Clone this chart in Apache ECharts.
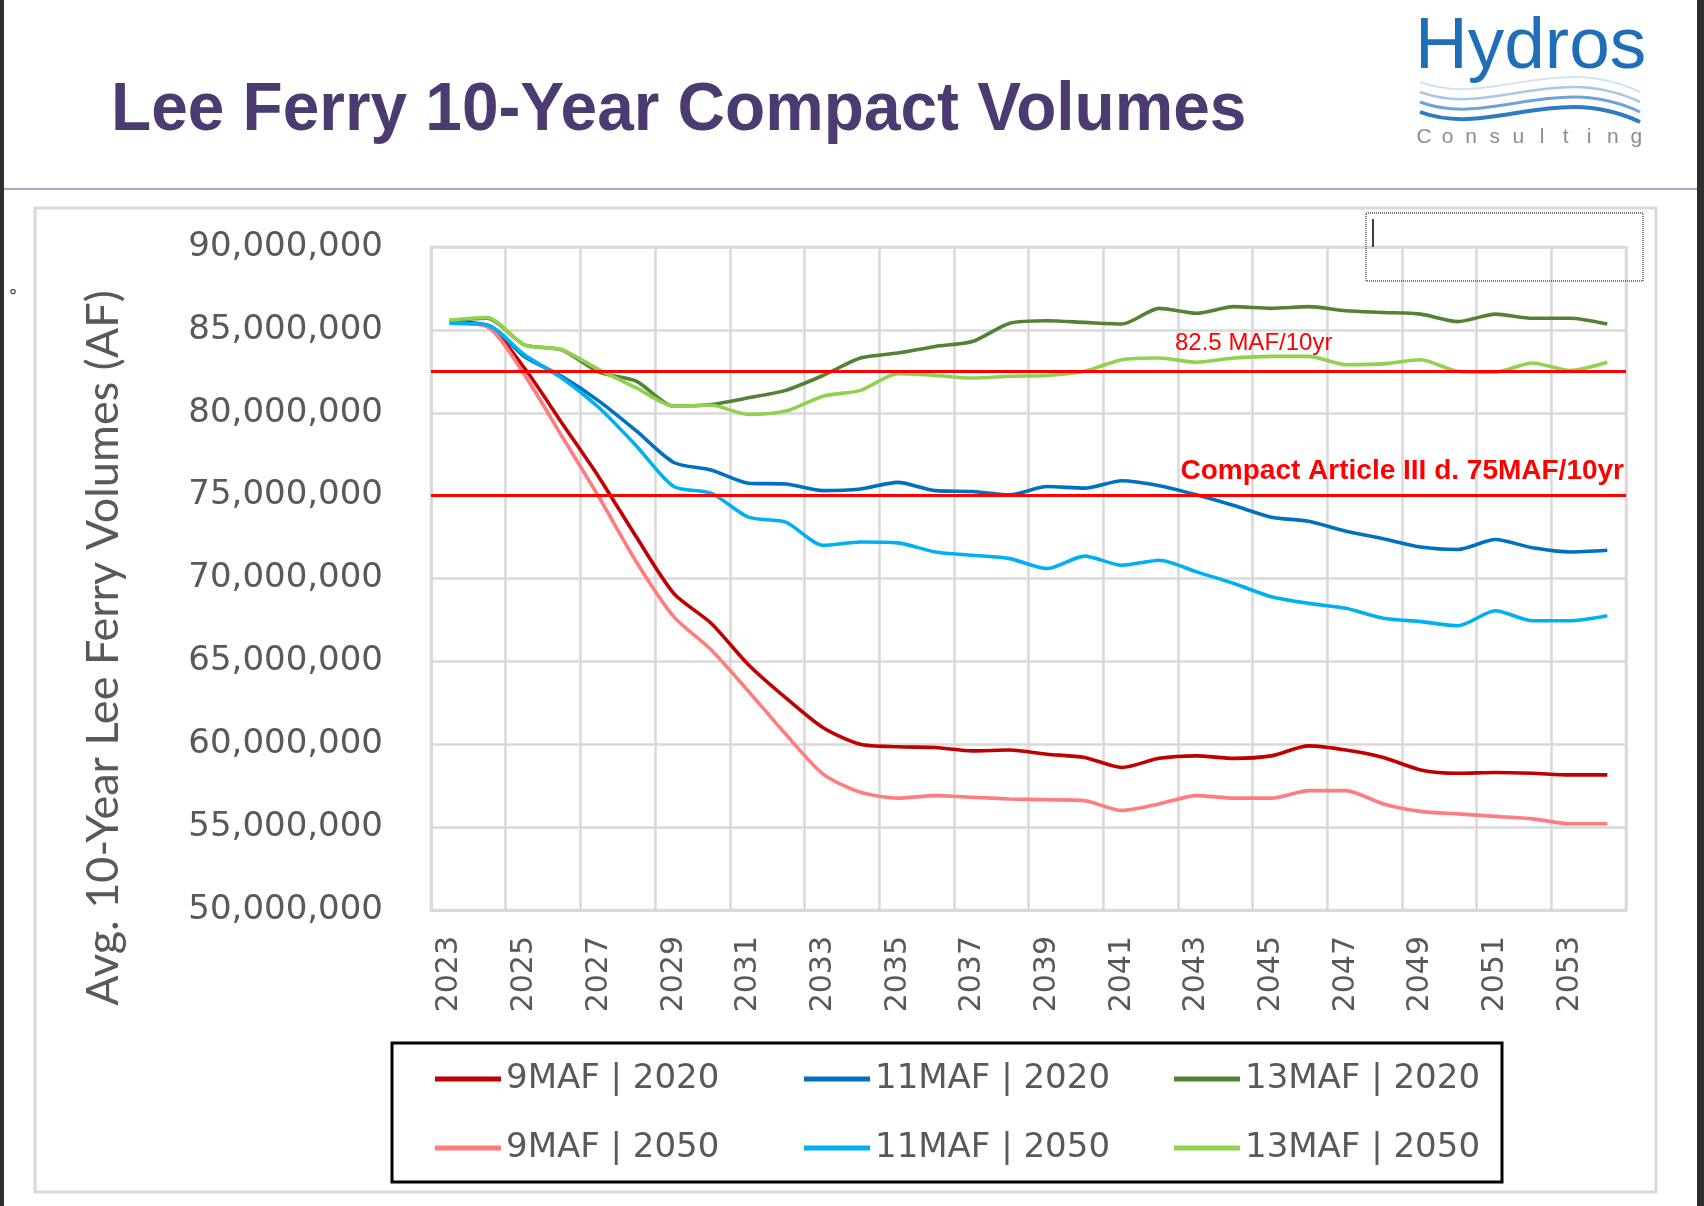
<!DOCTYPE html>
<html><head><meta charset="utf-8">
<script src="https://cdn.jsdelivr.net/npm/echarts@6/dist/echarts.min.js"></script>
<style>html,body{margin:0;padding:0;background:#fff;overflow:hidden}#c{width:1704px;height:1206px}</style>
</head><body><div id="c"></div>
<script>
// ---- data (million acre-feet, 10-year running volumes) ----
const years = ['2023','2024','2025','2026','2027','2028','2029','2030','2031','2032','2033','2034','2035','2036','2037','2038','2039','2040','2041','2042','2043','2044','2045','2046','2047','2048','2049','2050','2051','2052','2053','2054'];
const maf9_2020  = [85.45,85.25,82.7,79.4,76.1,72.5,69.1,67.3,64.8,62.8,61.0,60.0,59.85,59.8,59.6,59.65,59.4,59.2,58.6,59.15,59.3,59.15,59.3,59.9,59.65,59.2,58.45,58.25,58.3,58.25,58.15,58.15];
const maf11_2020 = [85.4,85.3,83.4,82.2,80.7,78.9,77.0,76.55,75.75,75.7,75.3,75.4,75.8,75.3,75.25,75.05,75.55,75.45,75.9,75.6,75.05,74.4,73.7,73.45,72.85,72.4,71.9,71.75,72.35,71.85,71.6,71.7];
const maf13_2020 = [85.55,85.7,84.1,83.8,82.45,81.9,80.4,80.5,80.9,81.35,82.25,83.3,83.6,84.0,84.3,85.4,85.55,85.45,85.35,86.3,86.0,86.4,86.3,86.4,86.15,86.05,85.95,85.5,85.95,85.7,85.7,85.35];
const maf9_2050  = [85.4,85.2,82.3,78.6,74.9,71.0,67.7,65.7,63.2,60.6,58.2,57.1,56.75,56.9,56.8,56.7,56.65,56.6,56.0,56.4,56.9,56.75,56.75,57.2,57.2,56.4,55.95,55.8,55.65,55.5,55.2,55.2];
const maf11_2050 = [85.4,85.3,83.5,82.1,80.3,78.0,75.55,75.15,73.7,73.4,72.0,72.2,72.15,71.6,71.4,71.2,70.6,71.35,70.8,71.1,70.4,69.7,68.9,68.5,68.2,67.6,67.4,67.15,68.05,67.45,67.45,67.75];
const maf13_2050 = [85.6,85.75,84.1,83.8,82.6,81.5,80.4,80.45,79.9,80.1,81.0,81.35,82.35,82.25,82.1,82.2,82.25,82.5,83.2,83.3,83.05,83.3,83.4,83.4,82.9,82.95,83.2,82.5,82.45,83.0,82.55,83.05];
const yMin = 50000000, yMax = 90000000, yStep = 5000000;
const refUpper = 82500000, refCompact = 75000000;
const seriesNames = ['9MAF | 2020','11MAF | 2020','13MAF | 2020','9MAF | 2050','11MAF | 2050','13MAF | 2050'];
const seriesData = [maf9_2020, maf11_2020, maf13_2020, maf9_2050, maf11_2050, maf13_2050];
const seriesColors = ['#C00000','#0070C0','#548235','#FF7C80','#00B0F0','#92D050'];

const chart = echarts.init(document.getElementById('c'), null, {renderer:'canvas'});
const GRID = '#D9D9D9';
const series = seriesNames.map((n, i) => ({
  name: n, type: 'line', data: seriesData[i].map(v => Math.round(v * 1e6)),
  showSymbol: false, symbol: 'none', smooth: 0.25,
  lineStyle: {color: seriesColors[i], width: 3.6}, itemStyle: {color: seriesColors[i]},
  z: 3
}));
series.push({
  name: 'ref', type: 'line', data: [], silent: true,
  markLine: {
    silent: true, symbol: ['none','none'], label: {show: false},
    lineStyle: {color: '#FF0000', width: 3, type: 'solid'},
    data: [{yAxis: refUpper}, {yAxis: refCompact}], z: 10
  }
});
const legendCols = [[0,3],[1,4],[2,5]];
const legendLeft = [435, 804, 1174];
chart.setOption({
  animation: false,
  backgroundColor: '#ffffff',
  grid: {left: 431, top: 247, width: 1195, height: 663, show: true, borderColor: GRID, borderWidth: 2.5, backgroundColor: 'transparent'},
  xAxis: {
    type: 'category', data: years, boundaryGap: true,
    axisLine: {show: true, lineStyle: {color: GRID, width: 2.5}},
    axisTick: {show: false},
    splitLine: {show: true, interval: 1, lineStyle: {color: GRID, width: 2.5}},
    axisLabel: {interval: 1, rotate: 90, margin: 26, fontFamily: 'DejaVu Sans', fontSize: 30, color: '#595959'}
  },
  yAxis: {
    type: 'value', min: yMin, max: yMax, interval: yStep,
    axisLine: {show: true, lineStyle: {color: GRID, width: 2.5}},
    axisTick: {show: false},
    splitLine: {show: true, lineStyle: {color: GRID, width: 2.5}},
    axisLabel: {margin: 48, fontFamily: 'DejaVu Sans', fontSize: 34, color: '#595959',
      formatter: v => v.toLocaleString('en-US')}
  },
  legend: legendCols.map((c, k) => ({
    orient: 'vertical', left: legendLeft[k], top: 1062, padding: 0, itemGap: 35,
    itemWidth: 66, itemHeight: 5, icon: 'rect', selectedMode: false,
    data: c.map(i => seriesNames[i]),
    textStyle: {fontFamily: 'DejaVu Sans', fontSize: 34, color: '#595959'}
  })),
  series: series
});

const yUp = chart.convertToPixel({yAxisIndex: 0}, refUpper);
const yCp = chart.convertToPixel({yAxisIndex: 0}, refCompact);

function txt(x, y, text, font, fill, align, extra) {
  return Object.assign({type: 'text', x: x, y: y, style: {text: text, font: font, fill: fill,
    align: align || 'left', textAlign: align || 'left', verticalAlign: 'middle', textVerticalAlign: 'middle'}}, extra || {});
}
const g = [];
g.push({type: 'rect', shape: {x: 0, y: 0, width: 4, height: 1206}, style: {fill: '#2f2f2f'}});
g.push({type: 'rect', shape: {x: 1697, y: 0, width: 7, height: 1206}, style: {fill: '#2f2f2f'}});
g.push({type: 'line', shape: {x1: 4, y1: 189, x2: 1697, y2: 189}, style: {stroke: '#ABA6C2', lineWidth: 2}});
g.push({type: 'rect', shape: {x: 35, y: 208, width: 1621, height: 984}, style: {fill: 'none', stroke: GRID, lineWidth: 3}, z: -1});
g.push(txt(111, 111, 'Lee Ferry 10-Year Compact Volumes', 'bold 68px "Liberation Sans"', '#4B3B71', 'left', {scaleX: 0.967}));
g.push(txt(1415, 48, 'Hydros', '73px "Liberation Sans"', '#1F6FB8', 'left'));
const waveCol = ['#D3E2F2','#A9C7E6','#6FA3D6','#2E7BC4'];
const waveW = [2, 2.5, 3, 4];
[82, 92, 102, 112].forEach((y0, k) => {
  g.push({type: 'bezierCurve', shape: {x1: 1420, y1: y0, cpx1: 1490, cpy1: y0 + 26, cpx2: 1555, cpy2: y0 - 30, x2: 1640, y2: y0 + 10},
    style: {stroke: waveCol[k], lineWidth: waveW[k], fill: 'none'}});
});
'Consulting'.split('').forEach((ch, k) => {
  g.push(txt(1424 + k * 23.6, 137, ch, '21px "Liberation Sans"', '#8C8C8C', 'center'));
});
g.push({type: 'rect', shape: {x: 1366, y: 213, width: 277, height: 68}, style: {fill: 'none', stroke: '#000', lineWidth: 1, lineDash: [1, 1]}, z: 20});
g.push({type: 'line', shape: {x1: 1373, y1: 219, x2: 1373, y2: 247}, style: {stroke: '#000', lineWidth: 1.5}, z: 20});
g.push(txt(13, 297, '°', '18px "DejaVu Sans"', '#333333', 'center'));
g.push(txt(103, 648, 'Avg. 10-Year Lee Ferry Volumes (AF)', '45px Lato', '#595959', 'center', {rotation: Math.PI / 2}));
g.push({type: 'rect', shape: {x: 392, y: 1043, width: 1110, height: 139}, style: {fill: 'none', stroke: '#000', lineWidth: 3}});
g.push(txt(1175, yUp - 28, '82.5 MAF/10yr', '24px "Liberation Sans"', '#FF0000', 'left', {z: 20}));
g.push(txt(1624, yCp - 24, 'Compact Article III d. 75MAF/10yr', 'bold 28px "Liberation Sans"', '#FF0000', 'right', {z: 20}));
chart.setOption({graphic: {elements: g}});
</script></body></html>
